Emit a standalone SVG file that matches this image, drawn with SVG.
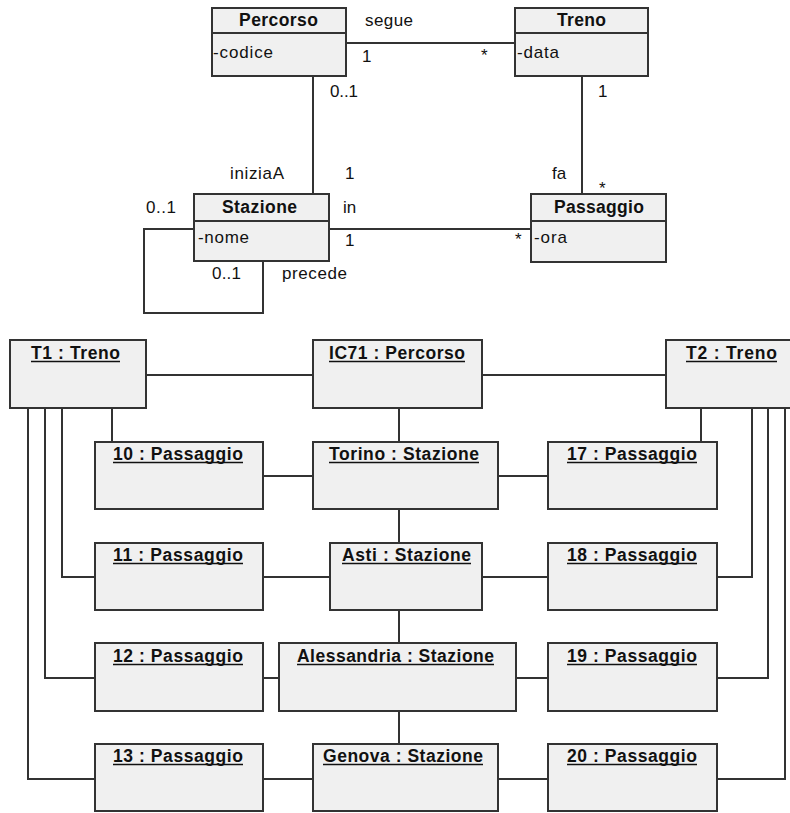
<svg xmlns="http://www.w3.org/2000/svg" width="790" height="813" viewBox="0 0 790 813">
<style>
.box{fill:#f0f0f0;stroke:#333;stroke-width:2}
.ln{fill:none;stroke:#333;stroke-width:2}
.ul{stroke:#111;stroke-width:1.6}
text{font-family:"Liberation Sans",Arial,sans-serif;font-size:17px;fill:#111}
.b{font-weight:bold;font-size:17.5px}
.u{font-weight:bold;font-size:17.5px}
</style>
<rect width="790" height="813" fill="#fff"/>
<g id="connectors">
<line class="ln" x1="346" y1="43" x2="515" y2="43"/>
<line class="ln" x1="313" y1="76" x2="313" y2="194"/>
<line class="ln" x1="582" y1="76" x2="582" y2="194"/>
<line class="ln" x1="329" y1="229" x2="531" y2="229"/>
<polyline class="ln" points="194,229 144,229 144,313 263,313 263,261"/>
<line class="ln" x1="146" y1="375" x2="313" y2="375"/>
<line class="ln" x1="482" y1="375" x2="666" y2="375"/>
<line class="ln" x1="399" y1="408" x2="399" y2="442"/>
<line class="ln" x1="399" y1="509" x2="399" y2="543"/>
<line class="ln" x1="399" y1="610" x2="399" y2="643"/>
<line class="ln" x1="399" y1="711" x2="399" y2="744"/>
<line class="ln" x1="263" y1="476" x2="313" y2="476"/>
<line class="ln" x1="498" y1="476" x2="548" y2="476"/>
<line class="ln" x1="263" y1="577" x2="330" y2="577"/>
<line class="ln" x1="482" y1="577" x2="548" y2="577"/>
<line class="ln" x1="263" y1="678" x2="279" y2="678"/>
<line class="ln" x1="516" y1="678" x2="548" y2="678"/>
<line class="ln" x1="263" y1="779" x2="313" y2="779"/>
<line class="ln" x1="498" y1="779" x2="548" y2="779"/>
<line class="ln" x1="112" y1="408" x2="112" y2="442"/>
<polyline class="ln" points="62,408 62,577 95,577"/>
<polyline class="ln" points="45,408 45,678 95,678"/>
<polyline class="ln" points="28,408 28,779 95,779"/>
<line class="ln" x1="701" y1="408" x2="701" y2="442"/>
<polyline class="ln" points="752,408 752,577 717,577"/>
<polyline class="ln" points="768,408 768,678 717,678"/>
<polyline class="ln" points="785,408 785,779 717,779"/>
</g>
<g id="labels">
<text x="365" y="26" textLength="48">segue</text>
<text x="362" y="62">1</text>
<text x="481" y="61">*</text>
<text x="330" y="97" textLength="28">0..1</text>
<text x="598" y="97">1</text>
<text x="230" y="179" textLength="54">iniziaA</text>
<text x="345" y="179">1</text>
<text x="552" y="179">fa</text>
<text x="599" y="194">*</text>
<text x="146" y="213" textLength="30">0..1</text>
<text x="343" y="213">in</text>
<text x="345" y="246">1</text>
<text x="515" y="245">*</text>
<text x="212" y="279" textLength="29">0..1</text>
<text x="282" y="279" textLength="65">precede</text>
</g>
<g id="Percorso">
<rect class="box" x="212" y="8" width="134" height="68"/>
<line class="ln" x1="212" y1="33" x2="346" y2="33"/>
<text class="b" x="239" y="26" textLength="79">Percorso</text>
<text x="213" y="58" textLength="60">-codice</text>
</g>
<g id="Treno">
<rect class="box" x="515" y="8" width="133" height="68"/>
<line class="ln" x1="515" y1="33" x2="648" y2="33"/>
<text class="b" x="557" y="26" textLength="49">Treno</text>
<text x="517" y="58" textLength="42">-data</text>
</g>
<g id="Stazione">
<rect class="box" x="194" y="194" width="135" height="67"/>
<line class="ln" x1="194" y1="221" x2="329" y2="221"/>
<text class="b" x="222" y="213" textLength="75">Stazione</text>
<text x="198" y="243" textLength="51">-nome</text>
</g>
<g id="Passaggio">
<rect class="box" x="531" y="194" width="135" height="68"/>
<line class="ln" x1="531" y1="221" x2="666" y2="221"/>
<text class="b" x="554" y="213" textLength="90">Passaggio</text>
<text x="534" y="243" textLength="33">-ora</text>
</g>
<g id="T1">
<rect class="box" x="10" y="340" width="136" height="68"/>
<text class="u" x="31" y="359" textLength="89">T1 : Treno</text>
<line class="ul" x1="31" y1="361.5" x2="120" y2="361.5"/>
</g>
<g id="IC71">
<rect class="box" x="313" y="340" width="169" height="68"/>
<text class="u" x="329" y="359" textLength="136">IC71 : Percorso</text>
<line class="ul" x1="329" y1="361.5" x2="465" y2="361.5"/>
</g>
<g id="T2">
<rect class="box" x="666" y="340" width="136" height="68"/>
<text class="u" x="686" y="359" textLength="91">T2 : Treno</text>
<line class="ul" x1="686" y1="361.5" x2="777" y2="361.5"/>
</g>
<g id="P10">
<rect class="box" x="95" y="442" width="168" height="67"/>
<text class="u" x="113" y="460" textLength="130">10 : Passaggio</text>
<line class="ul" x1="113" y1="462.5" x2="243" y2="462.5"/>
</g>
<g id="Torino">
<rect class="box" x="313" y="442" width="185" height="67"/>
<text class="u" x="329" y="460" textLength="150">Torino : Stazione</text>
<line class="ul" x1="329" y1="462.5" x2="479" y2="462.5"/>
</g>
<g id="P17">
<rect class="box" x="548" y="442" width="169" height="67"/>
<text class="u" x="567" y="460" textLength="130">17 : Passaggio</text>
<line class="ul" x1="567" y1="462.5" x2="697" y2="462.5"/>
</g>
<g id="P11">
<rect class="box" x="95" y="543" width="168" height="67"/>
<text class="u" x="113" y="561" textLength="130">11 : Passaggio</text>
<line class="ul" x1="113" y1="563.5" x2="243" y2="563.5"/>
</g>
<g id="Asti">
<rect class="box" x="330" y="543" width="152" height="67"/>
<text class="u" x="342" y="561" textLength="129">Asti : Stazione</text>
<line class="ul" x1="342" y1="563.5" x2="471" y2="563.5"/>
</g>
<g id="P18">
<rect class="box" x="548" y="543" width="169" height="67"/>
<text class="u" x="567" y="561" textLength="130">18 : Passaggio</text>
<line class="ul" x1="567" y1="563.5" x2="697" y2="563.5"/>
</g>
<g id="P12">
<rect class="box" x="95" y="643" width="168" height="68"/>
<text class="u" x="113" y="662" textLength="130">12 : Passaggio</text>
<line class="ul" x1="113" y1="664.5" x2="243" y2="664.5"/>
</g>
<g id="Alessandria">
<rect class="box" x="279" y="643" width="237" height="68"/>
<text class="u" x="297" y="662" textLength="197">Alessandria : Stazione</text>
<line class="ul" x1="297" y1="664.5" x2="494" y2="664.5"/>
</g>
<g id="P19">
<rect class="box" x="548" y="643" width="169" height="68"/>
<text class="u" x="567" y="662" textLength="130">19 : Passaggio</text>
<line class="ul" x1="567" y1="664.5" x2="697" y2="664.5"/>
</g>
<g id="P13">
<rect class="box" x="95" y="744" width="168" height="67"/>
<text class="u" x="113" y="762" textLength="130">13 : Passaggio</text>
<line class="ul" x1="113" y1="764.5" x2="243" y2="764.5"/>
</g>
<g id="Genova">
<rect class="box" x="313" y="744" width="185" height="67"/>
<text class="u" x="323" y="762" textLength="160">Genova : Stazione</text>
<line class="ul" x1="323" y1="764.5" x2="483" y2="764.5"/>
</g>
<g id="P20">
<rect class="box" x="548" y="744" width="169" height="67"/>
<text class="u" x="567" y="762" textLength="130">20 : Passaggio</text>
<line class="ul" x1="567" y1="764.5" x2="697" y2="764.5"/>
</g>
</svg>
